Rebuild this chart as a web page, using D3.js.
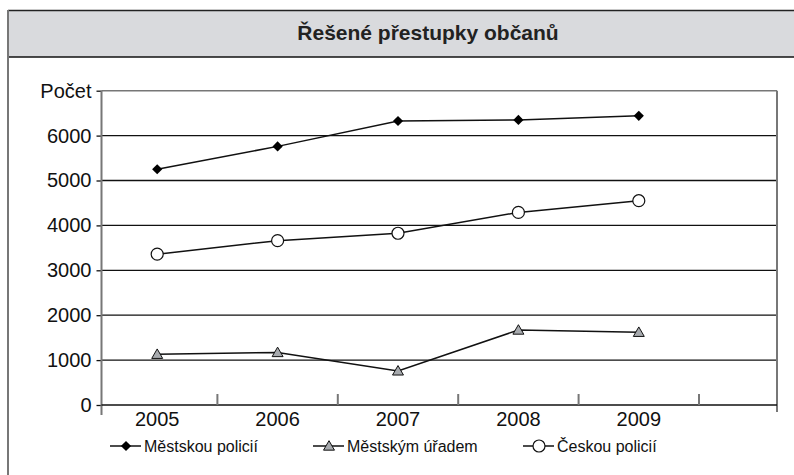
<!DOCTYPE html>
<html><head><meta charset="utf-8">
<script src="https://cdn.jsdelivr.net/npm/d3@7"></script>
<style>html,body{margin:0;padding:0;background:#fff;}svg{display:block;}</style>
</head><body>
<svg id="c" width="794" height="475" font-family="Liberation Sans, Arial, Helvetica, sans-serif"></svg>
<script>
const title = "Řešené přestupky občanů";
const years = ["2005","2006","2007","2008","2009"];
const mestskaPolicie = [5250, 5760, 6325, 6350, 6440];
const mestskyUrad = [1130, 1170, 760, 1670, 1620];
const ceskaPolicie = [3360, 3660, 3825, 4290, 4550];
const yTicks = [0,1000,2000,3000,4000,5000,6000,7000];
const yTopLabel = "Počet";
const seriesNames = ["Městskou policií","Městským úřadem","Českou policií"];
const FONT = "Liberation Sans, Arial, Helvetica, sans-serif";

const svg = d3.select("#c");
// outer frame + title band
svg.append("rect").attr("x",8).attr("y",10).attr("width",800).attr("height",47).attr("fill","#d9dadd");
svg.append("line").attr("x1",8).attr("x2",794).attr("y1",10.5).attr("y2",10.5).attr("stroke","#222").attr("stroke-width",1.5);
svg.append("line").attr("x1",8).attr("x2",794).attr("y1",57).attr("y2",57).attr("stroke","#111").attr("stroke-width",1.5);
svg.append("line").attr("x1",8).attr("x2",8).attr("y1",10).attr("y2",475).attr("stroke","#777").attr("stroke-width",2);
svg.append("text").attr("x",428).attr("y",40).attr("text-anchor","middle").attr("font-family",FONT).attr("font-size",21).attr("font-weight","bold").attr("fill","#222").text(title);

const left = 101.5, right = 777, bottom = 405;
const y = d3.scaleLinear().domain([0,7000]).range([bottom, 90.7]);
const bw = 120.4;
const x = d3.scaleBand().domain(years).range([699 - bw*years.length, 699]).paddingInner(0).paddingOuter(0);

// gridlines
svg.append("g").selectAll("line").data(yTicks.filter(d=>d>0 && d<7000)).join("line")
  .attr("x1",left).attr("x2",right).attr("y1",d=>y(d)).attr("y2",d=>y(d)).attr("stroke","#111").attr("stroke-width",1.3);
// plot border top & right
svg.append("line").attr("x1",left).attr("x2",right).attr("y1",y(7000)).attr("y2",y(7000)).attr("stroke","#777").attr("stroke-width",1.5);
svg.append("line").attr("x1",right).attr("x2",right).attr("y1",y(7000)).attr("y2",412).attr("stroke","#777").attr("stroke-width",2);

// y axis
const yAxis = d3.axisLeft(y).tickValues(yTicks).tickSize(5).tickPadding(5)
  .tickFormat(d => d===7000 ? yTopLabel : d);
const gy = svg.append("g").attr("transform",`translate(${left},0)`).call(yAxis);
gy.attr("font-family",FONT);
gy.select(".domain").remove();
gy.selectAll(".tick line").attr("stroke","#111").attr("stroke-width",1.3);
gy.selectAll(".tick text").attr("font-size",20).attr("fill","#111");
svg.append("line").attr("x1",left).attr("x2",left).attr("y1",y(7000)).attr("y2",415).attr("stroke","#777").attr("stroke-width",2);

// x axis
svg.append("line").attr("x1",left).attr("x2",right).attr("y1",bottom).attr("y2",bottom).attr("stroke","#111").attr("stroke-width",1.5);
svg.append("g").selectAll("line").data(years).join("line")
  .attr("x1",d=>x(d)+x.bandwidth()).attr("x2",d=>x(d)+x.bandwidth())
  .attr("y1",bottom).attr("y2",bottom-11).attr("stroke","#777").attr("stroke-width",2);
svg.append("g").selectAll("text").data(years).join("text")
  .attr("x",d=>x(d)+x.bandwidth()/2).attr("y",426).attr("text-anchor","middle")
  .attr("font-family",FONT).attr("font-size",20).attr("fill","#111").text(d=>d);

const cx = d => x(d)+x.bandwidth()/2;
const line = d3.line().x((d,i)=>cx(years[i])).y(d=>y(d));
const allSeries = [mestskaPolicie, mestskyUrad, ceskaPolicie];
allSeries.forEach(s=>{
  svg.append("path").attr("d",line(s)).attr("fill","none").attr("stroke","#111").attr("stroke-width",1.5);
});
const tri = d3.symbol().type(d3.symbolTriangle).size(52);
function drawMarker(g, kind, px, py){
  if(kind===0) g.append("path").attr("d",d3.symbol().type(d3.symbolSquare).size(52)()).attr("transform",`translate(${px},${py}) rotate(45)`).attr("fill","#000");
  else if(kind===1) g.append("path").attr("d",tri()).attr("transform",`translate(${px},${py+1})`).attr("fill","#a7aaae").attr("stroke","#111").attr("stroke-width",1);
  else g.append("circle").attr("cx",px).attr("cy",py).attr("r",6).attr("fill","#fff").attr("stroke","#111").attr("stroke-width",1.2);
}
allSeries.forEach((s,k)=>{
  const g = svg.append("g");
  s.forEach((v,i)=>drawMarker(g,k,cx(years[i]),y(v)));
});

// legend
const legX = [110, 313, 523];
const legY = 446;
seriesNames.forEach((n,k)=>{
  const g = svg.append("g");
  g.append("line").attr("x1",legX[k]).attr("x2",legX[k]+31).attr("y1",legY).attr("y2",legY).attr("stroke","#111").attr("stroke-width",1.5);
  drawMarker(g,k,legX[k]+16,legY);
  g.append("text").attr("x",legX[k]+34).attr("y",legY+5.5).attr("font-family",FONT).attr("font-size",16).attr("fill","#111").text(n);
});
</script>
</body></html>
